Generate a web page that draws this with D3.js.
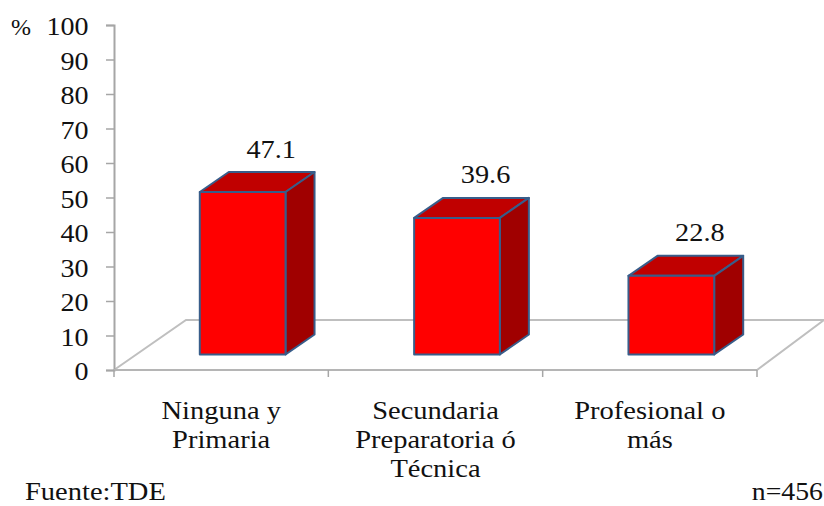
<!DOCTYPE html>
<html>
<head>
<meta charset="utf-8">
<script src="https://cdn.jsdelivr.net/npm/d3@7"></script>
<style>
html, body { margin: 0; padding: 0; background: #fff; }
svg { display: block; }
text { font-family: "Liberation Serif", serif; fill: #111; }
</style>
</head>
<body>
<svg width="824" height="506"></svg>
<script>
var categories = ['Ninguna y Primaria', 'Secundaria Preparatoria ó Técnica', 'Profesional o más'];
var categoryLines = [['Ninguna y', 'Primaria'], ['Secundaria', 'Preparatoria ó', 'Técnica'], ['Profesional o', 'más']];
var values = [47.1, 39.6, 22.8];
var yTicks = [0, 10, 20, 30, 40, 50, 60, 70, 80, 90, 100];

var svg = d3.select('svg');

var x = d3.scaleBand().domain(categories).range([114, 757]).paddingInner(0.6).paddingOuter(0.3);
var y = d3.scaleLinear().domain([0, 100]).range([370, 25]);

// 3d offset of the chart floor, bars sit part way into it
var depthX = 72, depthY = -50;
var barDx = 29, barDy = -20;
var barShiftX = 21.5, barShiftY = -15.5;

// the reference text is wider than the font, so stretch it sideways
var stretch = 1.14;

function place(px, py, sx) {
    return 'translate(' + px + ',' + py + ') scale(' + sx + ',1)';
}

// floor
svg.append('path')
    .attr('d', 'M' + x.range()[0] + ',' + y(0) + 'l' + depthX + ',' + depthY + 'L824,' + (y(0) + depthY) +
        'L' + x.range()[1] + ',' + y(0))
    .attr('fill', 'none')
    .attr('stroke', '#bfbfbf')
    .attr('stroke-width', 2);

// axes
var yAxis = d3.axisLeft(y).tickValues(yTicks).tickSize(8);
var gy = svg.append('g').attr('transform', 'translate(114,0)').call(yAxis);
gy.select('.domain').attr('stroke', '#a6a6a6').attr('stroke-width', 2);
gy.selectAll('line').attr('stroke', '#a6a6a6').attr('stroke-width', 1.5);
gy.selectAll('text')
    .attr('x', 0)
    .attr('dy', '0.38em')
    .attr('transform', place(-25.5, 0, 1.1))
    .attr('fill', '#111')
    .style('font-family', '"Liberation Serif", serif')
    .style('font-size', '25.5px');

var xEdges = categories.map(function (d) {
    return x(d) - x.step() * x.paddingOuter();
}).concat(x.range()[1]);

svg.append('line')
    .attr('x1', x.range()[0]).attr('x2', x.range()[1])
    .attr('y1', y(0)).attr('y2', y(0))
    .attr('stroke', '#b5b5b5').attr('stroke-width', 2);

svg.selectAll('.xtick')
    .data(xEdges)
    .join('line')
    .attr('class', 'xtick')
    .attr('x1', function (d) { return d; })
    .attr('x2', function (d) { return d; })
    .attr('y1', y(0))
    .attr('y2', y(0) + 7)
    .attr('stroke', '#a6a6a6')
    .attr('stroke-width', 1.5);

// bars
var bars = svg.selectAll('.bar')
    .data(values)
    .join('g')
    .attr('class', 'bar')
    .attr('transform', function (d, i) {
        return 'translate(' + (x(categories[i]) + barShiftX) + ',' + barShiftY + ')';
    })
    .attr('stroke', '#385d8a')
    .attr('stroke-width', 2)
    .attr('stroke-linejoin', 'round');

bars.append('path')
    .attr('fill', '#c00000')
    .attr('d', function (d) {
        return 'M0,' + y(d) + 'l' + barDx + ',' + barDy + 'h' + x.bandwidth() + 'l' + (-barDx) + ',' + (-barDy) + 'z';
    });

bars.append('path')
    .attr('fill', '#a00000')
    .attr('d', function (d) {
        return 'M' + x.bandwidth() + ',' + y(d) + 'l' + barDx + ',' + barDy + 'V' + (y(0) + barDy) +
            'l' + (-barDx) + ',' + (-barDy) + 'z';
    });

bars.append('rect')
    .attr('fill', '#ff0000')
    .attr('x', 0)
    .attr('y', function (d) { return y(d); })
    .attr('width', x.bandwidth())
    .attr('height', function (d) { return y(0) - y(d); });

// value labels
svg.selectAll('.value')
    .data(values)
    .join('text')
    .attr('class', 'value')
    .attr('transform', function (d, i) {
        return place(x(categories[i]) + x.bandwidth() / 2 + 50, y(d) + barShiftY + barDy - 14.5, 1.09);
    })
    .attr('text-anchor', 'middle')
    .style('font-size', '26px')
    .text(function (d) { return d.toFixed(1); });

// category labels
categoryLines.forEach(function (lines, i) {
    svg.selectAll('.cat' + i)
        .data(lines)
        .join('text')
        .attr('class', 'cat' + i)
        .attr('transform', function (d, j) {
            return place(x(categories[i]) + x.bandwidth() / 2, 419 + j * 29, stretch);
        })
        .attr('text-anchor', 'middle')
        .style('font-size', '25px')
        .text(function (d) { return d; });
});

svg.append('text').attr('x', 11).attr('y', 35).style('font-size', '24px').text('%');
svg.append('text').attr('transform', place(25, 500, stretch)).style('font-size', '25px').text('Fuente:TDE');
svg.append('text').attr('transform', place(823, 500, 1.11)).attr('text-anchor', 'end').style('font-size', '25px').text('n=456');
</script>
</body>
</html>
